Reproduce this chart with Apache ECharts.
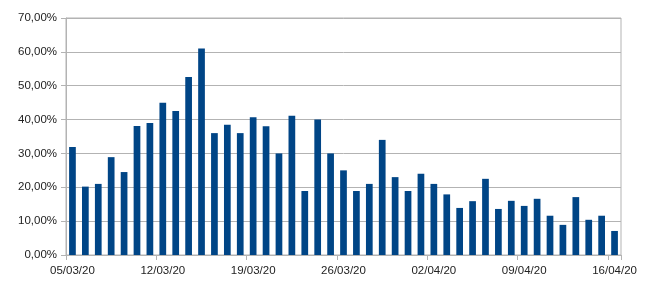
<!DOCTYPE html>
<html>
<head>
<meta charset="utf-8">
<script src="https://cdn.jsdelivr.net/npm/echarts@6/dist/echarts.min.js"></script>
<style>html,body{margin:0;padding:0;background:#fff;}#c{width:650px;height:294px;}</style>
</head>
<body>
<div id="c"></div>
<script>
const categories = [
  "05/03/20","06/03/20","07/03/20","08/03/20","09/03/20","10/03/20","11/03/20",
  "12/03/20","13/03/20","14/03/20","15/03/20","16/03/20","17/03/20","18/03/20",
  "19/03/20","20/03/20","21/03/20","22/03/20","23/03/20","24/03/20","25/03/20",
  "26/03/20","27/03/20","28/03/20","29/03/20","30/03/20","31/03/20","01/04/20",
  "02/04/20","03/04/20","04/04/20","05/04/20","06/04/20","07/04/20","08/04/20",
  "09/04/20","10/04/20","11/04/20","12/04/20","13/04/20","14/04/20","15/04/20",
  "16/04/20"
];
const values = [
  31.9, 20.2, 21.0, 28.9, 24.5, 38.1, 39.0,
  45.0, 42.5, 52.6, 61.0, 36.0, 38.5, 36.0,
  40.7, 38.0, 30.0, 41.1, 18.9, 40.0, 30.0,
  25.0, 18.9, 21.0, 34.0, 23.0, 18.9, 24.0,
  21.0, 17.9, 13.9, 15.9, 22.5, 13.6, 16.0,
  14.5, 16.6, 11.6, 8.9, 17.1, 10.4, 11.6,
  7.1
];
const yTicks = [0, 10, 20, 30, 40, 50, 60, 70];

const chart = echarts.init(document.getElementById('c'), null, {renderer: 'canvas'});
const fontFamily = '"Liberation Sans", Arial, sans-serif';
chart.setOption({
  animation: false,
  backgroundColor: '#ffffff',
  grid: {left: 66, right: 29, top: 18, bottom: 39, show: true, borderColor: '#b3b3b3', borderWidth: 1, containLabel: false},
  xAxis: {
    type: 'category',
    data: categories,
    boundaryGap: true,
    axisLine: {show: true, lineStyle: {color: '#b3b3b3', width: 1}},
    axisTick: {show: true, interval: 6, length: 5, lineStyle: {color: '#b3b3b3'}},
    axisLabel: {interval: 6, margin: 10, color: '#222', fontSize: 11.5, fontFamily: fontFamily}
  },
  yAxis: {
    type: 'value',
    min: yTicks[0],
    max: yTicks[yTicks.length - 1],
    interval: 10,
    axisLine: {show: true, lineStyle: {color: '#b3b3b3', width: 1}},
    axisTick: {show: true, length: 5, lineStyle: {color: '#b3b3b3'}},
    splitLine: {show: true, lineStyle: {color: '#b3b3b3', width: 1}},
    axisLabel: {margin: 9, color: '#222', fontSize: 11.5, fontFamily: fontFamily,
      formatter: v => v.toFixed(2).replace('.', ',') + '%'}
  },
  series: [{
    type: 'bar',
    data: values,
    barCategoryGap: '48%',
    itemStyle: {color: '#004586'}
  }]
});
</script>
</body>
</html>
